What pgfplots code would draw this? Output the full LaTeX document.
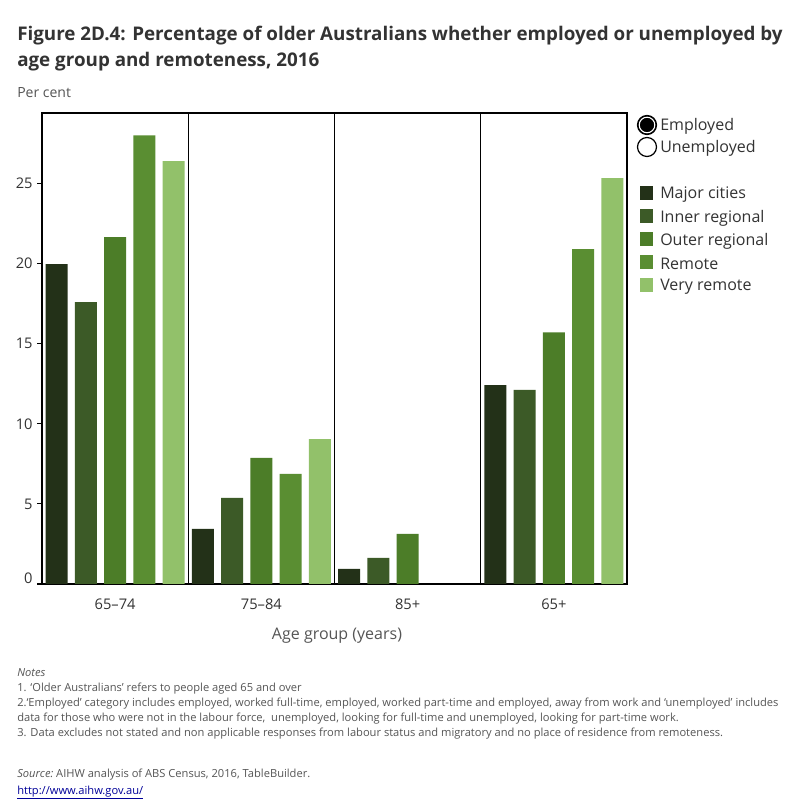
\documentclass[border=0pt]{standalone}
\usepackage{pgfplots}
\pgfplotsset{compat=1.18}
\usepackage{fontspec}
\setmainfont{Open Sans}
\definecolor{c1}{HTML}{233118}
\definecolor{c2}{HTML}{3C5A27}
\definecolor{c3}{HTML}{4C7D28}
\definecolor{c4}{HTML}{5A8E32}
\definecolor{c5}{HTML}{92C16A}
\definecolor{txt}{HTML}{333333}
\definecolor{gtxt}{HTML}{555555}
\begin{document}
\begin{tikzpicture}
\begin{scope}[x=0.75pt,y=0.75pt]
\path[fill=white] (0,0) rectangle (800,800);
% title
\node[anchor=base west,inner sep=0,text=txt] at (17,759) {\fontsize{14.1pt}{17pt}\selectfont\bfseries Figure 2D.4: Percentage of older Australians whether employed or unemployed by};
\node[anchor=base west,inner sep=0,text=txt] at (17,733) {\fontsize{14.1pt}{17pt}\selectfont\bfseries age group and remoteness, 2016};
\node[anchor=base west,inner sep=0,text=gtxt] at (17,702) {\fontsize{10.5pt}{12pt}\selectfont Per cent};
\node[text=gtxt] at (337,164) {\fontsize{12pt}{14pt}\selectfont Age group (years)};
% legend: shapes
\draw[black, line width=0.9pt, fill=black] (647,675) circle (9.5);
\draw[white, line width=0.8pt] (647,675) circle (7.8);
\draw[black, line width=0.9pt, fill=white] (647,653) circle (9.5);
\node[anchor=west,inner sep=0,text=txt] at (660,674) {\fontsize{12pt}{14pt}\selectfont Employed};
\node[anchor=west,inner sep=0,text=txt] at (660,652) {\fontsize{12pt}{14pt}\selectfont Unemployed};
% legend: colours
\foreach \c/\yy/\t in {c1/607/Major cities, c2/584/Inner regional, c3/561/Outer regional, c4/538/Remote, c5/515/Very remote}{
  \fill[\c] (640,\yy-7) rectangle (653,\yy+7);
  \node[anchor=west,inner sep=0,text=txt] at (660,\yy-2) {\fontsize{12pt}{14pt}\selectfont \t};
}
% notes
\begin{scope}[every node/.style={anchor=base west,inner sep=0,text=gtxt,font=\fontsize{8.35pt}{9.5pt}\selectfont}]
\node at (17,123) {\itshape Notes};
\node at (17,108) {1. ‘Older Australians’ refers to people aged 65 and over};
\node at (17,93) {2.‘Employed’ category includes employed, worked full-time, employed, worked part-time and employed, away from work and ‘unemployed’ includes};
\node at (17,78) {data for those who were not in the labour force,\ \ unemployed, looking for full-time and unemployed, looking for part-time work.};
\node at (17,63) {3. Data excludes not stated and non applicable responses from labour status and migratory and no place of residence from remoteness.};
\node at (17,22) {\itshape Source:\upshape\ AIHW analysis of ABS Census, 2016, TableBuilder.};
\node[text=blue!60!black] at (17,6) {\underline{http://www.aihw.gov.au/}};
\end{scope}
\draw[black, line width=0.9pt] (37,216) -- (42,216);
\end{scope}
\begin{axis}[
  at={(31.5pt,162pt)}, anchor=south west,
  scale only axis, width=438.75pt, height=353.25pt,
  xmin=0, xmax=20, ymin=0, ymax=29.4,
  axis line style={black, line width=0.9pt},
  ybar, bar width=0.75, bar shift=0pt,
  xtick={2.5,7.5,12.5,17.5},
  xticklabels={65--74,75--84,85+,65+},
  major x tick style={draw=none},
  xticklabel style={text=txt, font=\fontsize{11pt}{13pt}\selectfont, yshift=-4pt},
  extra x ticks={5,10,15},
  extra x tick labels={},
  extra x tick style={grid=major, major grid style={black, line width=0.9pt}, major tick length=0pt},
  ytick={0,5,10,15,20,25},
  yticklabels={\raisebox{8pt}{0},5,10,15,20,25},
  ytick pos=left, tick align=outside, major tick length=3.5pt,
  y tick style={black, line width=0.6pt},
  yticklabel style={text=txt, font=\fontsize{11pt}{13pt}\selectfont},
  /pgf/number format/assume math mode=true,
  clip=false,
]
\addplot[fill=c1, draw=none] coordinates {(0.5,19.96) (5.5,3.44) (10.5,0.94) (15.5,12.42)};
\addplot[fill=c2, draw=none] coordinates {(1.5,17.6) (6.5,5.37) (11.5,1.63) (16.5,12.11)};
\addplot[fill=c3, draw=none] coordinates {(2.5,21.65) (7.5,7.87) (12.5,3.13) (17.5,15.7)};
\addplot[fill=c4, draw=none] coordinates {(3.5,28.0) (8.5,6.87) (18.5,20.9)};
\addplot[fill=c5, draw=none] coordinates {(4.5,26.4) (9.5,9.05) (19.5,25.33)};
\end{axis}
\end{tikzpicture}
\end{document}
